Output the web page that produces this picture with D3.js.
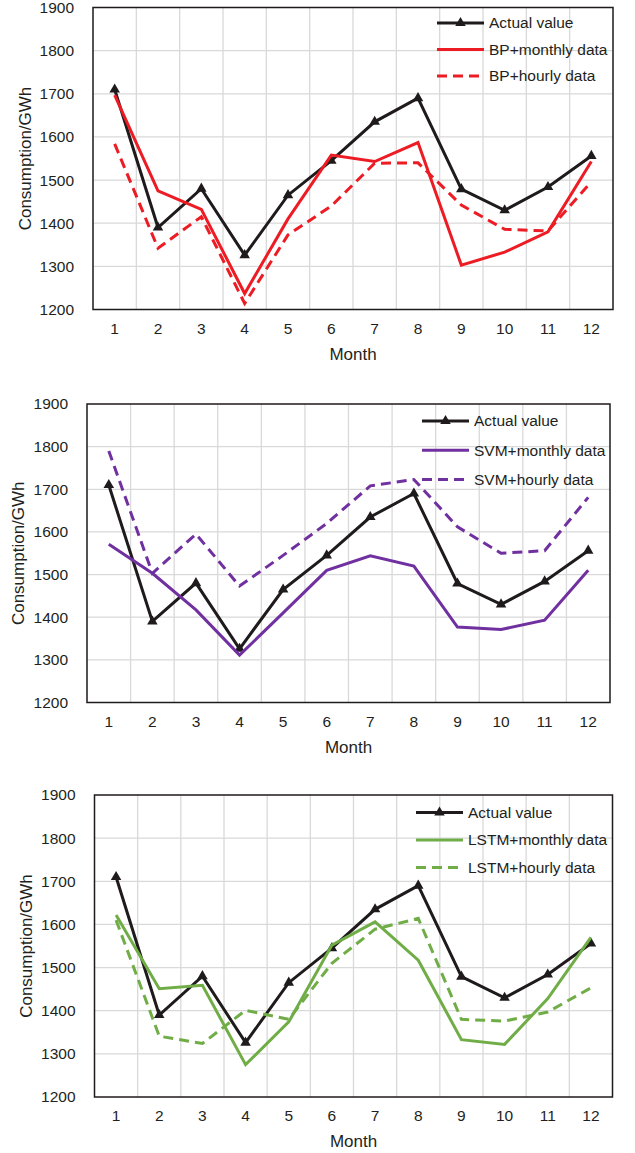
<!DOCTYPE html>
<html>
<head>
<meta charset="utf-8">
<script src="https://cdn.jsdelivr.net/npm/d3@7"></script>
<style>
  body { margin: 0; background: #fff; }
  svg { display: block; font-family: "Liberation Sans", Arial, sans-serif; }
</style>
</head>
<body>
<svg id="chart" width="635" height="1153"></svg>
<script>
// Shared data
var months = [1, 2, 3, 4, 5, 6, 7, 8, 9, 10, 11, 12];
var yTicks = [1200, 1300, 1400, 1500, 1600, 1700, 1800, 1900];
var actual = [1710, 1390, 1480, 1326, 1465, 1545, 1635, 1690, 1479, 1430, 1484, 1556];

// Model predictions
var bpMonthly   = [1697, 1475, 1432, 1237, 1410, 1558, 1543, 1587, 1303, 1333, 1380, 1543];
var bpHourly    = [1584, 1342, 1415, 1214, 1373, 1440, 1539, 1540, 1442, 1386, 1382, 1496];
var svmMonthly  = [1571, 1503, 1417, 1311, 1410, 1510, 1544, 1520, 1377, 1371, 1393, 1510];
var svmHourly   = [1790, 1503, 1595, 1473, 1545, 1620, 1708, 1723, 1612, 1550, 1556, 1681];
var lstmMonthly = [1622, 1451, 1459, 1275, 1374, 1552, 1606, 1517, 1333, 1322, 1428, 1570];
var lstmHourly  = [1610, 1341, 1324, 1401, 1380, 1510, 1589, 1614, 1380, 1376, 1397, 1453];

var panels = [
  { name: "BP", color: "#ed1c24", monthly: bpMonthly, hourly: bpHourly,
    left: 93, top: 7.5, right: 613, bottom: 309.5, legX: 437, legY: 23, legGap: 26.5, titleX: 25 },
  { name: "SVM", color: "#7030a0", monthly: svmMonthly, hourly: svmHourly,
    left: 87, top: 404, right: 610, bottom: 702.5, legX: 422, legY: 421, legGap: 29.3, titleX: 18 },
  { name: "LSTM", color: "#70ad47", monthly: lstmMonthly, hourly: lstmHourly,
    left: 94.5, top: 795, right: 612.5, bottom: 1097, legX: 416, legY: 812.5, legGap: 27.5, titleX: 26 }
];

var svg = d3.select("#chart");
var black = "#1f1a1b";
var triangle = d3.symbol().type(d3.symbolTriangle).size(48);

function drawPanel(p) {
  var g = svg.append("g");

  var x = d3.scaleBand().domain(months).range([p.left, p.right]);
  var y = d3.scaleLinear().domain([1200, 1900]).range([p.bottom, p.top]);
  var cx = d => x(d) + x.bandwidth() / 2;

  // grid
  g.selectAll(".hgrid").data(yTicks.slice(1, -1)).enter().append("line")
    .attr("x1", p.left).attr("x2", p.right)
    .attr("y1", d => y(d)).attr("y2", d => y(d))
    .style("stroke", "#d9d9d9").style("stroke-width", 1.3);
  g.selectAll(".vgrid").data(months.slice(1)).enter().append("line")
    .attr("x1", d => x(d)).attr("x2", d => x(d))
    .attr("y1", p.top).attr("y2", p.bottom)
    .style("stroke", "#d9d9d9").style("stroke-width", 1.3);

  // frame
  g.append("rect")
    .attr("x", p.left).attr("y", p.top)
    .attr("width", p.right - p.left).attr("height", p.bottom - p.top)
    .style("fill", "none").style("stroke", black).style("stroke-width", 1.5);

  // axes (labels only)
  var yAxis = g.append("g")
    .attr("transform", "translate(" + p.left + ",0)")
    .call(d3.axisLeft(y).tickValues(yTicks).tickFormat(d3.format("d")).tickSize(0).tickPadding(19));
  var xAxis = g.append("g")
    .attr("transform", "translate(0," + p.bottom + ")")
    .call(d3.axisBottom(x).tickSize(0).tickPadding(13));
  [yAxis, xAxis].forEach(a => {
    a.select(".domain").remove();
    a.selectAll("text").style("font-size", "15.5px").style("fill", "#231f20")
      .style("font-family", "Liberation Sans, Arial, sans-serif");
  });

  // titles
  g.append("text")
    .attr("x", (p.left + p.right) / 2).attr("y", p.bottom + 50)
    .attr("text-anchor", "middle")
    .style("font-size", "17px").style("fill", "#231f20")
    .text("Month");
  g.append("text")
    .attr("transform", "translate(" + (p.titleX + 6) + "," + ((p.top + p.bottom) / 2) + ") rotate(-90)")
    .attr("text-anchor", "middle")
    .style("font-size", "17px").style("fill", "#231f20")
    .text("Consumption/GWh");

  var line = d3.line().x((d, i) => cx(months[i])).y(d => y(d));

  // actual
  g.append("path").datum(actual).attr("d", line)
    .style("fill", "none").style("stroke", black).style("stroke-width", 3)
    .style("stroke-linejoin", "miter");
  g.selectAll(".mk").data(actual).enter().append("path")
    .attr("d", triangle)
    .attr("transform", (d, i) => "translate(" + cx(months[i]) + "," + y(d) + ")")
    .style("fill", black);

  // predictions
  g.append("path").datum(p.monthly).attr("d", line)
    .style("fill", "none").style("stroke", p.color).style("stroke-width", 3);
  g.append("path").datum(p.hourly).attr("d", line)
    .style("fill", "none").style("stroke", p.color).style("stroke-width", 3)
    .style("stroke-dasharray", "10,6");

  // legend
  var items = [
    { label: "Actual value", color: black, dash: null, marker: true },
    { label: p.name + "+monthly data", color: p.color, dash: null },
    { label: p.name + "+hourly data", color: p.color, dash: "10,6" }
  ];
  items.forEach((it, i) => {
    var ly = p.legY + i * p.legGap;
    g.append("line")
      .attr("x1", p.legX).attr("x2", p.legX + 47)
      .attr("y1", ly).attr("y2", ly)
      .style("stroke", it.color).style("stroke-width", 3)
      .style("stroke-dasharray", it.dash);
    if (it.marker) {
      g.append("path").attr("d", triangle)
        .attr("transform", "translate(" + (p.legX + 23.5) + "," + ly + ")")
        .style("fill", it.color);
    }
    g.append("text")
      .attr("x", p.legX + 52).attr("y", ly)
      .attr("dy", "0.35em")
      .style("font-size", "15.5px").style("fill", "#231f20")
      .text(it.label);
  });
}

panels.forEach(drawPanel);
</script>
</body>
</html>
